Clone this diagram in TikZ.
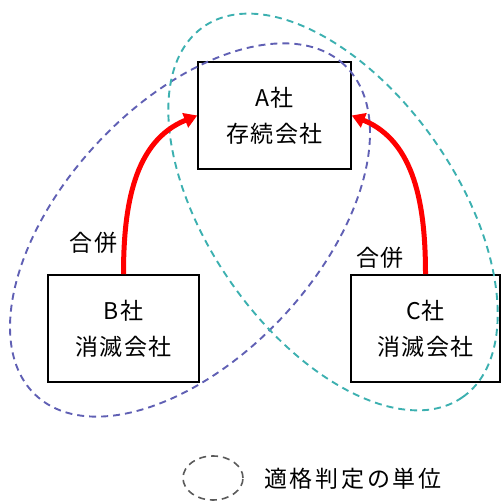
\documentclass[tikz,border=0pt]{standalone}
\usepackage{fontspec}
\setmainfont[LetterSpace=5]{Noto Sans CJK JP}
\usetikzlibrary{arrows.meta}
\definecolor{ovpurple}{RGB}{96,96,180}
\definecolor{ovteal}{RGB}{60,176,176}
\definecolor{legendgray}{RGB}{90,90,90}
\tikzset{
  company/.style={draw=black, line width=1.5pt, fill=white, align=center,
    font=\fontsize{23}{36}\selectfont, inner sep=0pt},
  unitline/.style={line width=1.9pt, dash pattern=on 7pt off 5pt},
  merger/.style={draw=red, line width=5pt, -{Triangle[length=13pt,width=15pt]}},
  mlabel/.style={font=\fontsize{23}{26}\selectfont, inner sep=0pt},
}
\begin{document}
\begin{tikzpicture}[x=1pt,y=1pt]
\useasboundingbox (0,0) rectangle (501,502);
% company boxes
\node[company, minimum width=153pt, minimum height=107pt] (A) at (274.5,386.5) {A社\\存続会社};
\node[company, minimum width=151pt, minimum height=107pt] (B) at (123.5,173.5) {B社\\消滅会社};
\node[company, minimum width=149pt, minimum height=107pt] (C) at (425.5,173.5) {C社\\消滅会社};
% units of qualification
\draw[unitline, ovpurple, shift={(190,272)}, rotate=47] (0,0) ellipse [x radius=226, y radius=127];
\draw[unitline, ovteal, shift={(333,290)}, rotate=-55] (0,0) ellipse [x radius=226, y radius=124];
% merger arrows
\draw[merger] (B.north) to[out=90, in=202] (A.west);
\draw[merger] (C.north) to[out=90, in=-22] (A.east);
\node[mlabel] (lb) at (93.5,259) {合併};
\node[mlabel] (lc) at (380,244) {合併};
% legend
\draw[unitline, legendgray, line width=1.6pt] (213,24) ellipse [x radius=30, y radius=22];
\node[mlabel, anchor=west] (legend) at (264,23) {\addfontfeatures{LetterSpace=12}適格判定の単位};
\end{tikzpicture}
\end{document}
